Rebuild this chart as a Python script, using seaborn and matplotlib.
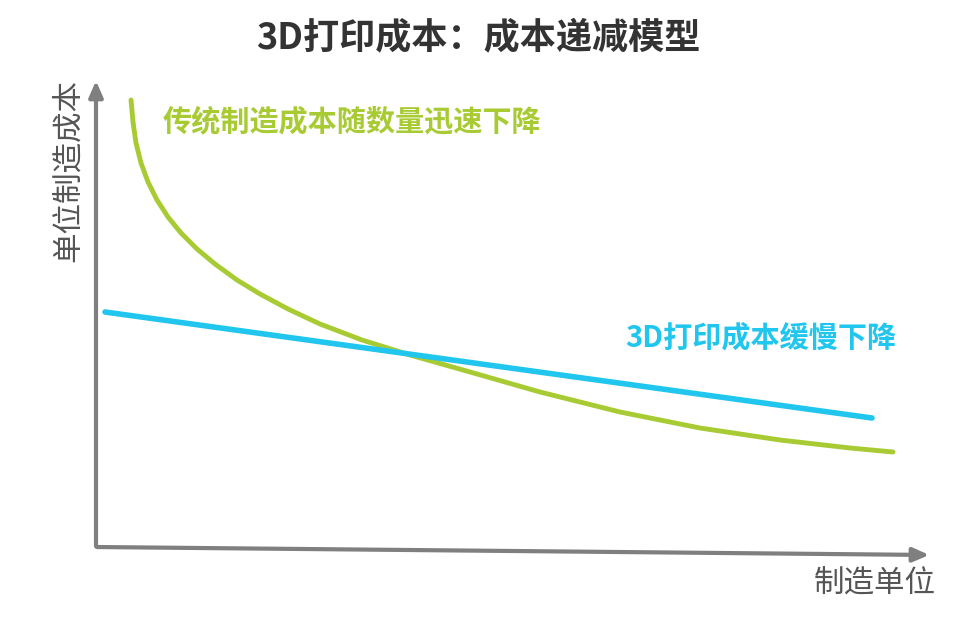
import matplotlib
matplotlib.use("Agg")
import matplotlib.pyplot as plt
import seaborn as sns
import pandas as pd

sns.set_theme(style="white")
plt.rcParams['font.family'] = ['Noto Sans CJK SC', 'DejaVu Sans']

# values (pixel-like units, y grows downward)
trad_x = [131, 133, 136, 141, 148, 157, 168, 181, 197, 215, 237, 260, 288, 320, 362, 410, 470, 540, 620, 700, 780, 850, 893]
trad_y = [100, 122, 143, 163, 182, 200, 217, 233, 249, 264, 280, 294, 309, 324, 340, 355, 372, 392, 412, 428, 440, 448, 452]
print_x = [105, 872]
print_y = [312, 418]

GREEN = "#a8cb34"
BLUE = "#20c6ee"
GREY = "#7f7f7f"

fig = plt.figure(figsize=(9.76, 6.18), dpi=100)
ax = fig.add_axes([0, 0, 1, 1])
df1 = pd.DataFrame({"x": trad_x, "y": trad_y})
df2 = pd.DataFrame({"x": print_x, "y": print_y})
sns.lineplot(data=df1, x="x", y="y", ax=ax, color=GREEN, lw=3.5, sort=False)
sns.lineplot(data=df2, x="x", y="y", ax=ax, color=BLUE, lw=4, sort=False)
ax.set_xlim(0, 976)
ax.set_ylim(618, 0)
ax.axis("off")

ax.annotate("", xy=(96, 78), xytext=(96, 549),
            arrowprops=dict(arrowstyle="-|>,head_width=0.35,head_length=0.8", color=GREY, lw=3))
ax.annotate("", xy=(932, 555), xytext=(94, 547),
            arrowprops=dict(arrowstyle="-|>,head_width=0.35,head_length=0.8", color=GREY, lw=3))

ax.text(478, 38, "3D打印成本：成本递减模型", ha="center", va="center",
        fontsize=26, fontweight="bold", color="#333333")
ax.text(163, 121, "传统制造成本随数量迅速下降", ha="left", va="center",
        fontsize=21, fontweight="bold", color=GREEN)
ax.text(896, 337, "3D打印成本缓慢下降", ha="right", va="center",
        fontsize=21, fontweight="bold", color=BLUE)
ax.text(68, 170, "单位制造成本", ha="center", va="center", rotation=90,
        fontsize=22, color="#555555")
ax.text(875, 584, "制造单位", ha="center", va="center",
        fontsize=22, color="#555555")

fig.savefig("out.png", dpi=100)
